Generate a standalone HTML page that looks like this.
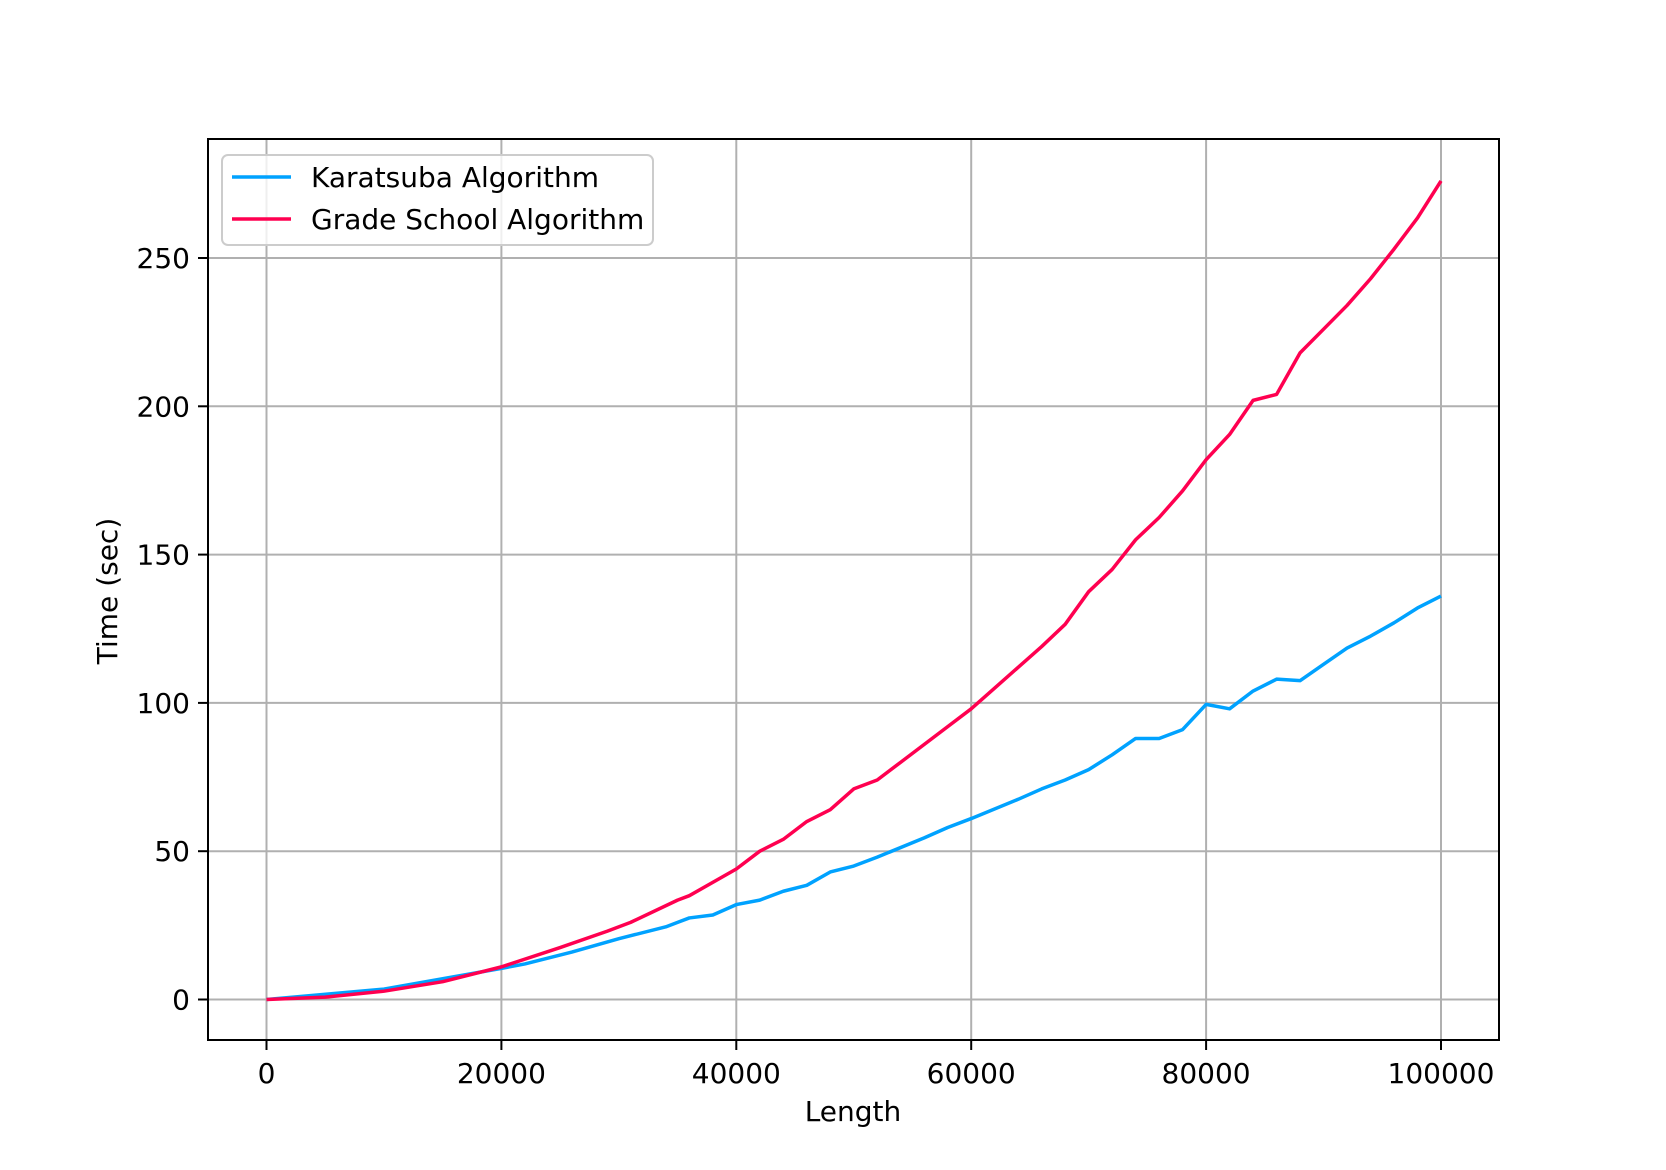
<!DOCTYPE html>
<html><head><meta charset="utf-8"><style>
body{margin:0;background:#fff;}
svg{display:block;font-family:"DejaVu Sans","Liberation Sans",sans-serif;}
</style></head><body>
<svg id="chart" width="1666" height="1170">
<rect x="0" y="0" width="1666" height="1170" fill="#fff"/>
<g id="grid"></g><g id="series"></g><g id="ticks"></g>
<rect x="208" y="139" width="1291" height="901" fill="none" stroke="#000" stroke-width="2"/>
<text x="853" y="1121" font-size="28" text-anchor="middle">Length</text>
<text transform="translate(117,591) rotate(-90)" font-size="28" text-anchor="middle">Time (sec)</text>
<g>
<rect x="222" y="155" width="431" height="90" rx="6" fill="#fff" fill-opacity="0.8" stroke="#ccc" stroke-width="2"/>
<line x1="232" y1="177" x2="291" y2="177" stroke="#00a2ff" stroke-width="3.5"/>
<text x="311" y="187" font-size="28">Karatsuba Algorithm</text>
<line x1="232" y1="219" x2="291" y2="219" stroke="#ff0050" stroke-width="3.5"/>
<text x="311" y="229" font-size="28">Grade School Algorithm</text>
</g>
</svg>
<script>
const xTicks=[0,20000,40000,60000,80000,100000];
const yTicks=[0,50,100,150,200,250];
const karaX=[0,10000,20000,22000,26000,30000,34000,35000,36000,38000,40000,42000,44000,46000,48000,50000,52000,56000,58000,60000,64000,66000,68000,70000,72000,74000,76000,78000,80000,82000,84000,86000,88000,90000,92000,94000,96000,98000,100000];
const karaY=[0,3.5,10.5,12,16,20.5,24.5,26,27.5,28.5,32,33.5,36.5,38.5,43,45,48,54.5,58,61,67.5,71,74,77.5,82.5,88,88,91,99.5,98,104,108,107.5,113,118.5,122.5,127,132,136];
const gradeX=[0,5000,10000,15000,20000,25000,29000,31000,35000,36000,40000,42000,44000,46000,48000,50000,52000,54000,58000,60000,62000,64000,66000,68000,70000,72000,74000,76000,78000,80000,82000,84000,86000,88000,90000,92000,94000,96000,98000,100000];
const gradeY=[0,0.8,2.8,6,11,17.5,23,26,33.5,35,44,50,54,60,64,71,74,80,92,98,105,112,119,126.5,137.5,145,155,162.5,171.5,182,190.5,202,204,218,226,234,243,253,263.5,276];
const NS='http://www.w3.org/2000/svg';
function sx(v){return 266.5+(v-0)*(1441-266.5)/100000;}
function sy(v){return 999.5-v*(999.5-258)/250;}
const grid=document.getElementById('grid'),ticks=document.getElementById('ticks'),ser=document.getElementById('series');
function mk(tag,attrs,parent){const e=document.createElementNS(NS,tag);for(const k in attrs)e.setAttribute(k,attrs[k]);parent.appendChild(e);return e;}
xTicks.forEach(t=>{
 const X=sx(t);
 const g=mk('line',{x1:X,x2:X,y1:139,y2:1040,stroke:'#b0b0b0','stroke-width':2},grid);
 
 
 const tk=mk('line',{x1:X,x2:X,y1:1040,y2:1050,stroke:'#000','stroke-width':2},ticks);
 
 
 const tx=mk('text',{x:X,y:1083,'font-size':28,'text-anchor':'middle'},ticks);
 tx.textContent=t;
 
 
});
yTicks.forEach(t=>{
 const Y=sy(t);
 const g=mk('line',{x1:208,x2:1499,y1:Y,y2:Y,stroke:'#b0b0b0','stroke-width':2},grid);
 
 
 const tk=mk('line',{x1:198,x2:208,y1:Y,y2:Y,stroke:'#000','stroke-width':2},ticks);
 
 
 const tx=mk('text',{x:190,y:Y+10,'font-size':28,'text-anchor':'end'},ticks);
 tx.textContent=t;
 
 
});
function line(xs,ys,color,name){
 const p=mk('polyline',{points:xs.map((x,i)=>sx(x)+','+sy(ys[i])).join(' '),fill:'none',stroke:color,'stroke-width':3.5,'stroke-linejoin':'round'},ser);
 
 
}
line(karaX,karaY,'#00a2ff','karatsuba-line');
line(gradeX,gradeY,'#ff0050','grade-school-line');
</script>
</body></html>
